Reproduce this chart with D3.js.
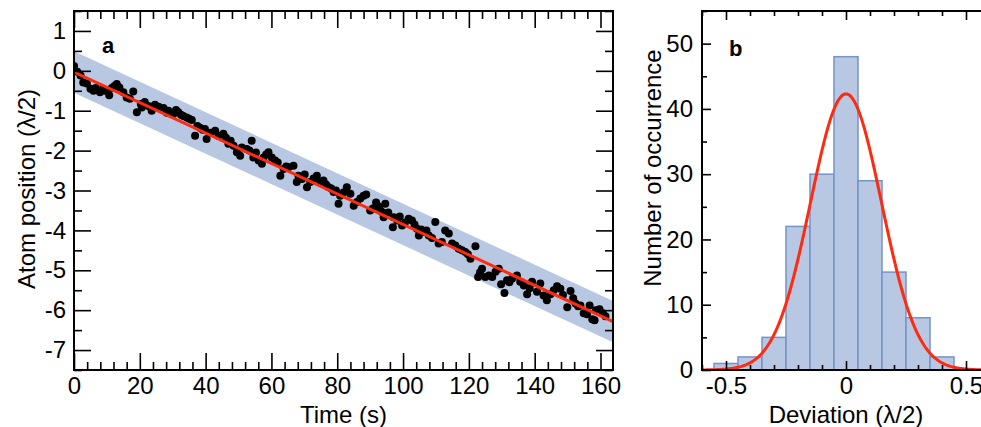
<!DOCTYPE html>
<html>
<head>
<meta charset="utf-8">
<script src="https://cdn.jsdelivr.net/npm/d3@7"></script>
<style>
    body { margin: 0; background: #fff; }
    text { font-family: "Liberation Sans", Arial, sans-serif; fill: #000; }
</style>
</head>
<body>
<script>
// panel a : atom position vs time
var times = [0, 1, 2, 2.8, 3.9, 5, 5.9, 6.6, 7.9, 8.6, 9.4, 10.7, 11.5, 12.3, 13, 13.8, 15, 16, 17, 18,
    19.1, 20.3, 20.6, 21.5, 22.6, 23.6, 24.6, 25.7, 27.2, 28.2, 28.7, 30.2, 31, 31.7, 32.5, 33.2, 34.2, 35, 35.8, 36.8,
    37.5, 38.3, 39.1, 39.8, 40.3, 41.5, 42.9, 43.9, 45.4, 46.2, 46.9, 47.6, 48.5, 49.5, 50.5, 51, 52.5, 53.3, 54, 54.5,
    55.3, 56.1, 57.1, 57.6, 58.4, 59.1, 60.1, 61.1, 61.9, 62.7, 63.7, 64.5, 65.2, 66.7, 67.7, 68.2, 69.3, 70.1, 70.8, 71.8,
    72.8, 73.8, 74.8, 75.8, 76.6, 77.4, 78.2, 78.9, 79.6, 80.4, 80.9, 81.9, 82.9, 84, 85, 86, 87, 88, 88.8, 90,
    90.8, 91.8, 92.6, 93.1, 93.6, 94.1, 94.6, 95.5, 96.9, 97.1, 98.2, 99, 99.7, 100.6, 101.7, 102.7, 103.5, 104.2, 104.8, 105.5,
    106.3, 107.1, 107.8, 108.8, 109.8, 110.8, 111.8, 112.8, 113.9, 114.9, 115.9, 116.9, 117.9, 118.9, 119.7, 120.5, 122, 122.8, 123.4, 124,
    125, 126.1, 127.1, 128.1, 129.1, 129.8, 130.8, 131.6, 132.3, 133.1, 134.6, 135.6, 136.7, 137.7, 138.5, 139.2, 140.7, 141.7, 142.7, 143.7,
    144.8, 145.8, 146.8, 147.8, 148.6, 149.9, 150.9, 151.7, 152.4, 153.2, 153.9, 154.9, 155.9, 156.7, 157.5, 158.2, 158.6, 159.7, 160.7, 161.5];
var positions = [0.12, -0.02, -0.12, -0.29, -0.32, -0.45, -0.5, -0.43, -0.54, -0.47, -0.5, -0.61, -0.43, -0.38, -0.33, -0.42, -0.54, -0.67, -0.7, -0.52,
    -1.04, -0.83, -0.92, -0.78, -0.88, -1.0, -0.85, -0.9, -0.93, -1.05, -1.0, -1.08, -0.98, -1.04, -1.1, -1.13, -1.17, -1.2, -1.23, -1.63,
    -1.38, -1.43, -1.48, -1.46, -1.71, -1.55, -1.5, -1.63, -1.58, -1.68, -1.83, -1.75, -1.88, -2.04, -2.13, -1.92, -1.96, -2.0, -1.75, -2.17,
    -2.05, -2.25, -2.33, -2.17, -2.1, -2.04, -2.17, -2.25, -2.3, -2.63, -2.46, -2.4, -2.42, -2.38, -2.79, -2.63, -2.71, -2.6, -2.92, -2.79,
    -2.7, -2.63, -2.79, -2.75, -2.85, -2.92, -2.95, -3.04, -3.0, -3.33, -3.13, -3.05, -2.92, -3.08, -3.38, -3.29, -3.2, -3.13, -3.1, -3.5,
    -3.45, -3.3, -3.4, -3.5, -3.54, -3.67, -3.33, -3.55, -3.92, -3.67, -3.75, -3.65, -3.88, -3.8, -3.71, -3.75, -3.85, -3.96, -4.13, -3.98,
    -4.04, -4.0, -4.13, -4.19, -3.79, -4.33, -4.29, -4.0, -4.08, -4.33, -4.38, -4.46, -4.5, -4.54, -4.6, -4.71, -4.4, -5.17, -5.05, -4.96,
    -5.17, -5.13, -5.17, -5.04, -4.96, -5.35, -5.57, -5.25, -5.3, -5.21, -5.13, -5.29, -5.38, -5.6, -5.45, -5.29, -5.54, -5.33, -5.63, -5.75,
    -5.6, -5.5, -5.4, -5.46, -5.62, -5.93, -5.52, -5.7, -5.83, -5.9, -5.88, -6.08, -6.1, -5.88, -6.23, -6.25, -6.0, -5.98, -6.08, -6.15];

// linear fit and its band
var fitStart = -0.03;
var fitSlope = -0.0382;
var bandHalf = 0.52;

var timeTicks = [0, 20, 40, 60, 80, 100, 120, 140, 160];
var positionTicks = [1, 0, -1, -2, -3, -4, -5, -6, -7];

// panel b : histogram of deviations
var binCenters = [-0.5, -0.4, -0.3, -0.2, -0.1, 0, 0.1, 0.2, 0.3, 0.4];
var binCounts = [1, 2, 5, 22, 30, 48, 29, 15, 8, 2];
var binWidth = 0.1;
var gaussPeak = 42.3;
var gaussSigma = 0.148;

var devTicks = [-0.5, 0, 0.5];
var countTicks = [0, 10, 20, 30, 40, 50];

var svg = d3.select("body")
    .append("svg")
        .attr("width", 981)
        .attr("height", 427);

var blue = "#b8c8e3";
var red = "#ff2a10";
var fontSize = "24px";

// ---------------- panel a ----------------
var a = {left: 74, top: 11, right: 613, bottom: 370};

var x = d3.scaleLinear()
    .domain([0, 163.8])
    .range([a.left, a.right]);

var y = d3.scaleLinear()
    .domain([-7.5, 1.5])
    .range([a.bottom, a.top]);

svg.append("clipPath")
    .attr("id", "clipA")
    .append("rect")
        .attr("x", a.left)
        .attr("y", a.top)
        .attr("width", a.right - a.left)
        .attr("height", a.bottom - a.top);

var ga = svg.append("g").attr("clip-path", "url(#clipA)");

var tEnd = 163.8;
var band = [
    [0, fitStart + bandHalf], [tEnd, fitStart + fitSlope * tEnd + bandHalf],
    [tEnd, fitStart + fitSlope * tEnd - bandHalf], [0, fitStart - bandHalf]
];
ga.append("path")
    .attr("d", "M" + band.map((p) => { return x(p[0]) + "," + y(p[1]); }).join("L") + "Z")
    .attr("fill", blue);

ga.selectAll("circle")
    .data(times)
    .enter()
    .append("circle")
        .attr("cx", (d) => { return x(d); })
        .attr("cy", (d, i) => { return y(positions[i]); })
        .attr("r", 4)
        .attr("fill", "#000");

ga.append("line")
    .attr("x1", x(0))
    .attr("y1", y(fitStart))
    .attr("x2", x(tEnd))
    .attr("y2", y(fitStart + fitSlope * tEnd))
    .attr("stroke", red)
    .attr("stroke-width", 3);

function ticksIn(axis, values, size) {
    return axis.tickValues(values).tickSizeInner(-size).tickSizeOuter(0).tickFormat("");
}

var minorTime = d3.range(0, 164, 4).filter((d) => { return d % 20 != 0; });
var minorPos = d3.range(-7.5, 1.6, 0.5).filter((d) => { return Math.abs(d % 1) > 0.1; });

var axesA = [
    [d3.axisBottom, x, a.bottom, timeTicks, minorTime, true, "x"],
    [d3.axisTop, x, a.top, timeTicks, minorTime, false, "x"],
    [d3.axisLeft, y, a.left, positionTicks, minorPos, true, "y"],
    [d3.axisRight, y, a.right, positionTicks, minorPos, false, "y"]
];
axesA.forEach((s) => {
    var tr = s[6] == "x" ? "translate(0," + s[2] + ")" : "translate(" + s[2] + ",0)";
    var major = s[0](s[1]).tickValues(s[3]).tickSizeInner(-17).tickSizeOuter(0).tickPadding(s[6] == "x" ? 7 : 8);
    if (!s[5]) major.tickFormat("");
    svg.append("g")
        .attr("class", "axis")
        .attr("transform", tr)
        .call(major);
    svg.append("g")
        .attr("class", "axis")
        .attr("transform", tr)
        .call(ticksIn(s[0](s[1]), s[4], 8));
});

svg.append("rect")
    .attr("x", a.left)
    .attr("y", a.top)
    .attr("width", a.right - a.left)
    .attr("height", a.bottom - a.top)
    .attr("fill", "none")
    .attr("stroke", "#000")
    .attr("stroke-width", 2);

svg.append("text")
    .attr("x", 102)
    .attr("y", 53)
    .attr("font-size", "22px")
    .attr("font-weight", "bold")
    .text("a");

svg.append("text")
    .attr("x", (a.left + a.right) / 2)
    .attr("y", 423)
    .attr("font-size", fontSize)
    .attr("text-anchor", "middle")
    .text("Time (s)");

svg.append("text")
    .attr("x", -189)
    .attr("y", 35)
    .attr("font-size", fontSize)
    .attr("text-anchor", "middle")
    .attr("transform", "rotate(-90)")
    .text("Atom position (\u03BB/2)");

// ---------------- panel b ----------------
var b = {left: 702, top: 11, right: 990, bottom: 370};

var xb = d3.scaleLinear()
    .domain([-0.6, 0.6])
    .range([b.left, b.right]);

var yb = d3.scaleLinear()
    .domain([0, 55])
    .range([b.bottom, b.top]);

svg.append("clipPath")
    .attr("id", "clipB")
    .append("rect")
        .attr("x", b.left)
        .attr("y", b.top)
        .attr("width", b.right - b.left)
        .attr("height", b.bottom - b.top);

var gb = svg.append("g").attr("clip-path", "url(#clipB)");

gb.selectAll("rect.bar")
    .data(binCenters)
    .enter()
    .append("rect")
        .attr("class", "bar")
        .attr("x", (d) => { return xb(d - binWidth / 2); })
        .attr("y", (d, i) => { return yb(binCounts[i]); })
        .attr("width", xb(binWidth) - xb(0))
        .attr("height", (d, i) => { return yb(0) - yb(binCounts[i]); })
        .attr("fill", blue)
        .attr("stroke", "#7493c9")
        .attr("stroke-width", 1.5);

var gaussX = d3.range(-0.6, 0.6001, 0.005);
gb.append("path")
    .datum(gaussX)
    .attr("d", d3.line()
        .x((d) => { return xb(d); })
        .y((d) => { return yb(gaussPeak * Math.exp(-d * d / (2 * gaussSigma * gaussSigma))); }))
    .attr("fill", "none")
    .attr("stroke", red)
    .attr("stroke-width", 3);

var minorDev = d3.range(-6, 7).map((d) => { return d / 10; }).filter((d) => { return Math.abs(d * 10) % 5 != 0; });
var minorCount = [5, 15, 25, 35, 45, 55];

var axesB = [
    [d3.axisBottom, xb, b.bottom, devTicks, minorDev, true, "x"],
    [d3.axisTop, xb, b.top, devTicks, minorDev, false, "x"],
    [d3.axisLeft, yb, b.left, countTicks, minorCount, true, "y"],
    [d3.axisRight, yb, b.right, countTicks, minorCount, false, "y"]
];
axesB.forEach((s) => {
    var tr = s[6] == "x" ? "translate(0," + s[2] + ")" : "translate(" + s[2] + ",0)";
    var major = s[0](s[1]).tickValues(s[3]).tickSizeInner(-9).tickSizeOuter(0).tickPadding(s[6] == "x" ? 7 : 9)
        .tickFormat((d) => { return d == 0 ? "0" : String(d); });
    if (!s[5]) major.tickFormat("");
    svg.append("g")
        .attr("class", "axis")
        .attr("transform", tr)
        .call(major);
    svg.append("g")
        .attr("class", "axis")
        .attr("transform", tr)
        .call(ticksIn(s[0](s[1]), s[4], 5));
});

svg.append("rect")
    .attr("x", b.left)
    .attr("y", b.top)
    .attr("width", b.right - b.left)
    .attr("height", b.bottom - b.top)
    .attr("fill", "none")
    .attr("stroke", "#000")
    .attr("stroke-width", 2);

svg.append("text")
    .attr("x", 729)
    .attr("y", 56)
    .attr("font-size", "22px")
    .attr("font-weight", "bold")
    .text("b");

svg.append("text")
    .attr("x", xb(0))
    .attr("y", 423)
    .attr("font-size", fontSize)
    .attr("text-anchor", "middle")
    .text("Deviation (\u03BB/2)");

svg.append("text")
    .attr("x", -168)
    .attr("y", 661)
    .attr("font-size", fontSize)
    .attr("text-anchor", "middle")
    .attr("transform", "rotate(-90)")
    .text("Number of occurrence");

// axis styling
svg.selectAll(".axis path.domain").remove();
svg.selectAll(".axis line")
    .attr("stroke", "#000")
    .attr("stroke-width", 1.6);
svg.selectAll(".axis text")
    .attr("font-size", fontSize)
    .attr("font-family", "Liberation Sans, Arial, sans-serif")
    .text(function() { return d3.select(this).text().replace("\u2212", "-"); });
</script>
</body>
</html>
